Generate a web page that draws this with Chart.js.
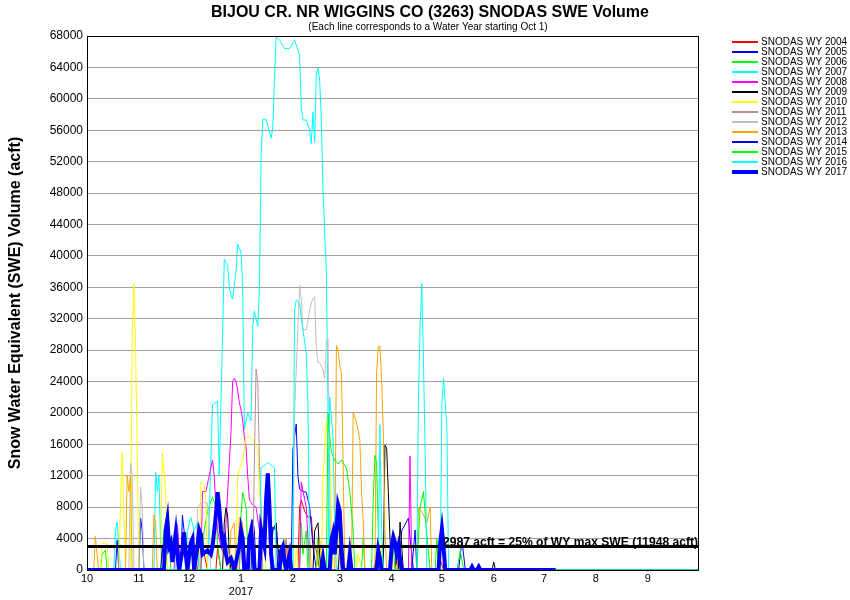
<!DOCTYPE html>
<html lang="en">
<head>
<meta charset="UTF-8">
<title>BIJOU CR. NR WIGGINS CO (3263) SNODAS SWE Volume</title>
<script src="https://cdn.jsdelivr.net/npm/chart.js"></script>
<style>
  html, body { margin: 0; padding: 0; background: #fff; }
  #wrap { width: 850px; height: 600px; }
</style>
</head>
<body>
<div id="wrap"><canvas id="sweChart" width="850" height="600"></canvas></div>
<script>
// x = day of water year (0 = Oct 1), y = SWE volume (acft)
const monthStarts = [0, 31, 61, 92, 123, 151, 182, 212, 243, 273, 304, 335];
const monthLabels = ['10', '11', '12', '1', '2', '3', '4', '5', '6', '7', '8', '9'];
const yearLabel = '2017';
const yTickValues = [0, 4000, 8000, 12000, 16000, 20000, 24000, 28000, 32000, 36000,
  40000, 44000, 48000, 52000, 56000, 60000, 64000, 68000];

const thresholdValue = 2987;
const thresholdLabel = '2987 acft = 25% of WY max SWE (11948 acft)';

const wy2004 = [[0,0],[66,0],[68,3000],[69,4700],[70,2000],[72,0],[77,0],[78,2900],[80,0],
  [113,0],[115,2500],[117,3000],[119,1000],[121,0],[126,0],[127,8000],[128,8900],[130,7500],
  [132,6700],[134,6800],[135,3800],[137,2500],[139,0],[150,0],[152,2000],[154,0],[171,0],
  [173,1500],[175,0],[184,0],[185,2500],[186,0],[209,0],[211,1300],[213,0],[365,0]];
const wy2005 = [[0,0],[17,0],[18,3800],[19,0],[31,0],[32,6600],[33,5000],[34,0],[56,0],[57,7000],
  [59,3000],[60,0],[98,0],[99,6400],[100,5000],[101,0],[122,0],[123,15300],[125,18600],[126,12000],
  [127,10300],[129,10000],[131,9900],[133,8000],[135,3000],[137,0],[186,0],[188,5000],[192,6600],
  [193,4000],[195,0],[365,0]];
const wy2006 = [[0,0],[8,0],[9,2000],[11,2500],[12,0],[44,0],[46,5000],[48,7200],[49,6000],[50,0],
  [68,0],[70,5000],[72,7500],[75,9300],[77,8000],[78,3000],[80,0],[91,0],[92,7000],[93,9900],
  [95,8000],[96,3000],[97,0],[127,0],[128,6000],[129,2000],[131,5000],[132,0],[137,0],[138,4000],
  [139,0],[164,0],[165,4000],[166,0],[182,0],[183,3000],[184,0],[208,0],[209,4000],[210,0],[365,0]];
const wy2007 = [[0,0],[16,0],[17,5000],[18,6100],[19,3000],[20,0],[40,0],[41,12500],[42,10000],
  [43,12000],[44,3000],[45,0],[53,0],[54,6000],[55,0],[72,0],[75,21000],[78,21500],[79,12000],
  [81,30000],[82,39600],[84,38800],[85,36000],[86,35000],[87,34500],[89,38000],[90,41500],
  [92,40500],[93,36000],[94,18000],[96,20000],[98,19000],[99,31000],[100,33000],[102,31000],
  [103,35600],[104,52600],[105,57400],[107,57400],[110,55000],[111,56400],[113,68000],[115,67500],
  [118,66400],[121,66400],[124,67500],[127,65600],[128,58900],[129,57300],[131,57300],[133,56000],
  [134,54300],[135,58300],[136,54500],[137,63300],[138,64000],[139,62400],[140,57300],[141,48400],
  [142,42900],[143,38000],[144,20000],[145,0],[365,0]];
const wy2008 = [[0,0],[52,0],[53,4000],[54,5700],[55,3000],[56,0],[68,0],[69,10000],[71,10000],
  [73,12000],[75,14000],[76,12000],[77,8000],[78,5000],[80,3000],[82,2000],[85,13600],[86,17400],
  [87,24000],[88,24400],[89,24000],[90,22900],[91,21300],[92,20400],[93,19100],[94,16900],
  [95,15700],[96,12000],[97,9000],[99,8300],[101,8000],[103,5000],[104,0],[118,0],[119,3800],
  [120,0],[127,0],[128,11200],[130,9000],[131,8000],[132,4000],[133,0],[150,0],[151,2000],[152,0],
  [192,0],[193,14500],[194,0],[365,0]];
const wy2009 = [[0,0],[81,0],[82,6000],[83,7900],[84,7000],[85,2000],[86,0],[110,0],[111,5000],
  [113,6000],[114,3000],[116,0],[135,0],[136,5000],[138,6000],[139,2000],[140,0],[177,0],
  [178,15900],[179,15500],[180,10000],[181,4000],[182,0],[186,0],[187,6100],[188,3000],[189,0],
  [242,0],[243,1000],[244,0],[365,0]];
const wy2010 = [[0,0],[8,0],[9,3400],[12,3400],[13,0],[19,0],[20,8000],[21,15000],[22,8000],[23,0],
  [26,0],[27,30300],[28,36500],[29,28600],[30,15000],[31,0],[44,0],[45,14900],[47,10000],[48,0],
  [67,0],[68,11200],[70,11000],[71,9000],[72,0],[89,0],[90,12000],[93,14000],[95,17000],
  [97,17000],[99,16500],[102,15500],[103,10000],[105,5000],[107,0],[117,0],[118,4000],[119,0],
  [124,0],[125,3000],[126,0],[140,0],[141,12000],[143,19000],[145,15000],[147,0],[149,0],
  [150,5000],[151,0],[161,0],[162,2200],[164,0],[175,0],[176,3500],[177,0],[365,0]];
const wy2011 = [[0,0],[91,0],[92,4000],[93,0],[99,0],[100,14000],[101,25600],[102,24000],
  [103,14000],[104,8000],[105,0],[118,0],[119,4000],[120,0],[365,0]];
const wy2012 = [[0,0],[25,0],[26,13600],[27,12000],[28,0],[31,0],[32,10600],[33,8000],[34,0],
  [59,0],[60,3000],[61,0],[65,0],[66,8000],[69,8700],[72,8500],[73,6000],[74,0],[123,0],
  [124,20000],[127,36300],[128,34400],[129,30600],[131,30600],[132,31800],[133,33100],[134,34000],
  [135,34600],[136,34800],[137,28300],[138,26400],[139,26400],[141,25500],[142,24400],[143,29300],
  [144,29500],[145,10000],[146,0],[365,0]];
const wy2013 = [[0,0],[4,0],[5,4300],[6,2000],[7,0],[23,0],[24,12100],[25,10000],[26,12000],[27,0],
  [39,0],[40,7000],[41,6000],[42,0],[85,0],[86,5000],[88,6000],[89,0],[90,0],[91,6700],[93,6000],
  [94,0],[119,0],[120,3000],[121,0],[132,0],[133,4000],[134,0],[137,0],[139,3800],[141,0],[148,0],
  [149,28600],[150,28000],[151,26000],[152,25100],[153,13600],[154,0],[158,0],[159,20000],
  [160,19500],[161,18700],[162,17800],[163,16500],[164,10000],[165,6400],[166,0],[172,0],
  [173,25100],[174,28400],[175,28500],[176,24200],[177,17800],[178,5000],[179,0],[185,0],
  [186,3000],[187,0],[197,0],[198,8000],[200,7500],[203,6000],[205,8000],[206,0],[365,0]];
const wy2014 = [[0,0],[44,0],[45,3000],[46,0],[110,0],[111,5500],[113,5000],[114,0],[150,0],
  [151,3000],[152,0],[194,0],[196,5100],[197,0],[222,0],[224,3800],[226,0],[365,0]];
const wy2015 = [[0,0],[143,0],[144,20000],[145,17000],[146,15000],[148,14000],[150,13500],
  [152,14000],[155,13000],[157,10000],[159,5000],[160,0],[170,0],[171,9000],[172,14600],
  [173,13600],[174,5000],[175,0],[197,0],[199,8000],[201,10000],[203,4500],[205,0],[221,0],
  [223,2500],[225,0],[365,0]];
const wy2016 = [[0,0],[59,0],[60,5000],[62,6700],[64,5000],[66,6000],[67,0],[103,0],[104,13000],
  [108,13700],[112,13000],[113,0],[123,0],[124,33100],[125,34400],[127,34000],[128,32000],
  [129,30600],[131,27600],[132,20800],[133,0],[144,0],[145,22000],[147,17000],[148,5000],[149,0],
  [174,0],[175,18500],[176,5000],[177,0],[197,0],[198,22000],[199,31000],[200,36500],[201,26700],
  [202,15000],[203,0],[211,0],[212,21300],[213,24400],[215,18200],[216,0],[365,0]];
const wy2017 = [[0,0],[46,0],[47,5000],[48,6400],[49,3000],[50,3500],[51,1000],[52,3000],[53,4700],
  [54,2000],[55,0],[57,2500],[58,4800],[59,2000],[60,0],[62,3500],[63,4000],[64,0],[66,3000],
  [67,5100],[68,4500],[69,2000],[70,2200],[72,2500],[74,2000],[75,3000],[77,7000],[78,9900],
  [79,8000],[80,5000],[81,3500],[82,4000],[83,2000],[84,1000],[86,1500],[87,800],[88,0],[91,3000],
  [92,5100],[93,4000],[94,0],[96,0],[97,4000],[98,5000],[99,3000],[100,0],[103,0],[104,5100],
  [105,4000],[106,3000],[107,9000],[108,12300],[109,8000],[110,2000],[111,0],[115,0],[116,2500],
  [117,3000],[118,1000],[119,0],[121,2000],[122,0],[140,0],[141,1500],[142,0],[145,0],[146,3800],
  [147,4700],[148,2000],[149,5000],[150,8300],[151,7500],[152,3000],[153,0],[156,0],[157,2000],
  [158,0],[173,0],[174,2500],[175,1500],[176,0],[181,0],[182,3000],[183,4200],[184,3500],
  [185,2000],[186,3000],[187,1500],[188,0],[210,0],[211,3500],[212,5200],[213,3000],[214,0],
  [229,0],[230,400],[231,0],[233,0],[234,400],[235,0],[280,0]];

const seriesNames = ['SNODAS WY 2004', 'SNODAS WY 2005', 'SNODAS WY 2006', 'SNODAS WY 2007',
  'SNODAS WY 2008', 'SNODAS WY 2009', 'SNODAS WY 2010', 'SNODAS WY 2011', 'SNODAS WY 2012',
  'SNODAS WY 2013', 'SNODAS WY 2014', 'SNODAS WY 2015', 'SNODAS WY 2016', 'SNODAS WY 2017'];
const seriesData = [wy2004, wy2005, wy2006, wy2007, wy2008, wy2009, wy2010, wy2011, wy2012,
  wy2013, wy2014, wy2015, wy2016, wy2017];

// styles
const seriesColors = ['#ff0000', '#0000ff', '#00ff00', '#00ffff', '#ff00ff', '#000000', '#ffff00',
  '#bc8f8f', '#c0c0c0', '#ffa500', '#0000ff', '#00ff00', '#00ffff', '#0000ff'];
const seriesWidths = [1, 1, 1, 1, 1, 1, 1, 1, 1, 1, 1, 1, 1, 4];
const FONT = 'Arial, "Liberation Sans", sans-serif';

const datasets = seriesData.map((pts, i) => ({
  label: seriesNames[i],
  data: pts.map(p => ({ x: p[0], y: p[1] })),
  borderColor: seriesColors[i],
  backgroundColor: seriesColors[i],
  borderWidth: seriesWidths[i],
  pointRadius: 0,
  tension: 0,
  // later years drawn on top, 2017 above the threshold line
  order: i === 13 ? -100 : 100 - i
}));
datasets.push({
  label: 'threshold',
  data: [{ x: 0, y: thresholdValue }, { x: 365, y: thresholdValue }],
  borderColor: '#000',
  borderWidth: 3,
  pointRadius: 0,
  order: -50
});

const decor = {
  id: 'decor',
  afterDatasetsDraw(chart) {
    const { ctx, chartArea: a, scales } = chart;
    ctx.save();
    // threshold label
    ctx.fillStyle = '#000';
    ctx.font = 'bold 13px ' + FONT;
    ctx.textAlign = 'left';
    ctx.textBaseline = 'alphabetic';
    ctx.fillText(thresholdLabel, 443, scales.y.getPixelForValue(thresholdValue) - 1, 255);
    // frame
    ctx.strokeStyle = '#000';
    ctx.lineWidth = 1;
    ctx.strokeRect(a.left + 0.5, a.top + 0.5, a.right - a.left, a.bottom - a.top);
    ctx.restore();
  },
  afterDraw(chart) {
    const { ctx, chartArea: a } = chart;
    ctx.save();
    ctx.fillStyle = '#000';
    ctx.textAlign = 'center';
    ctx.textBaseline = 'alphabetic';
    ctx.font = 'bold 16px ' + FONT;
    ctx.fillText('BIJOU CR. NR WIGGINS CO (3263) SNODAS SWE Volume', 430, 17, 438);
    ctx.font = '10px ' + FONT;
    ctx.fillText('(Each line corresponds to a Water Year starting Oct 1)', 428, 30, 256);
    // y axis title
    ctx.save();
    ctx.translate(20, (a.top + a.bottom) / 2);
    ctx.rotate(-Math.PI / 2);
    ctx.font = 'bold 16px ' + FONT;
    ctx.fillText('Snow Water Equivalent (SWE) Volume (acft)', 0, 0, 336);
    ctx.restore();
    // legend
    ctx.textAlign = 'left';
    ctx.textBaseline = 'middle';
    ctx.font = '10px ' + FONT;
    seriesNames.forEach((name, i) => {
      const y = 41 + i * 10;
      const h = seriesWidths[i] > 1 ? 4 : 2;
      ctx.fillStyle = seriesColors[i];
      ctx.fillRect(732, y - h / 2 + 1, 26, h);
      ctx.fillStyle = '#000';
      ctx.fillText(name, 761, y + 1, 88);
    });
    ctx.restore();
  }
};

new Chart(document.getElementById('sweChart'), {
  type: 'line',
  data: { datasets },
  plugins: [decor],
  options: {
    responsive: false,
    animation: false,
    devicePixelRatio: 1,
    layout: { padding: { top: 36, right: 152, bottom: 0, left: 0 } },
    plugins: { legend: { display: false }, tooltip: { enabled: false } },
    scales: {
      x: {
        type: 'linear',
        min: 0,
        max: 365,
        afterBuildTicks: s => { s.ticks = monthStarts.map(v => ({ value: v })); },
        afterFit: s => { s.height = 30; },
        ticks: {
          autoSkip: false,
          maxRotation: 0,
          color: '#000',
          padding: 2,
          font: { family: FONT, size: 11 },
          callback: v => {
            const i = monthStarts.indexOf(v);
            return i === 3 ? [monthLabels[i], yearLabel] : monthLabels[i];
          }
        },
        grid: { display: false, drawTicks: false },
        border: { color: '#000' }
      },
      y: {
        min: 0,
        max: 68000,
        afterBuildTicks: s => { s.ticks = yTickValues.map(v => ({ value: v })); },
        afterFit: s => { s.width = 87; },
        ticks: {
          color: '#000',
          padding: 4,
          font: { family: FONT, size: 12 },
          callback: v => String(v)
        },
        grid: { color: '#a0a0a0', drawTicks: false },
        border: { color: '#000' }
      }
    }
  }
});
</script>
</body>
</html>
